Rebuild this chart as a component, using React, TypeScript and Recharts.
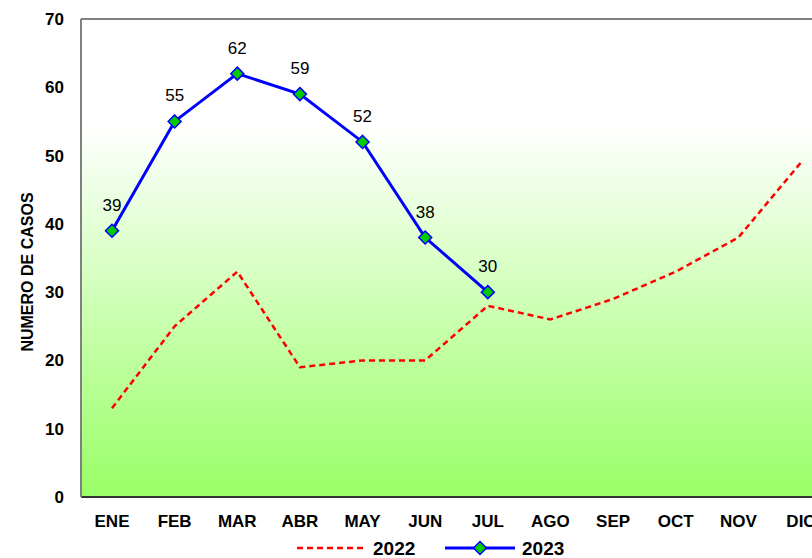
import React from 'react';
import { ComposedChart, Line, XAxis, YAxis, CartesianGrid, LabelList, Legend, ReferenceLine } from 'recharts';

const months = ['ENE', 'FEB', 'MAR', 'ABR', 'MAY', 'JUN', 'JUL', 'AGO', 'SEP', 'OCT', 'NOV', 'DIC'];
const casos2022 = [13, 25, 33, 19, 20, 20, 28, 26, 29, 33, 38, 49];
const casos2023: (number | null)[] = [39, 55, 62, 59, 52, 38, 30, null, null, null, null, null];
const yTicks = [0, 10, 20, 30, 40, 50, 60, 70];

const data = months.map((m, i) => ({ mes: m, y2022: casos2022[i], y2023: casos2023[i] }));

const FONT = '"Liberation Sans", Arial, sans-serif';

const Diamond = (props: any) => {
  const { cx, cy, value } = props;
  if (value == null || cx == null || cy == null) return null;
  const r = 6.5;
  return (
    <polygon
      points={`${cx},${cy - r} ${cx + r},${cy} ${cx},${cy + r} ${cx - r},${cy}`}
      fill="#00cc00"
      stroke="#0000ff"
      strokeWidth={1.5}
    />
  );
};

const LegendContent = () => (
  <svg width={832} height={31} style={{ display: 'block' }}>
    <line x1={297} x2={367} y1={21} y2={21} stroke="#ff0000" strokeWidth={2.5} strokeDasharray="6 4" />
    <text x={373} y={28} fontFamily={FONT} fontWeight="bold" fontSize={19} fill="#000">2022</text>
    <line x1={445} x2={515} y1={21} y2={21} stroke="#0000ff" strokeWidth={3} />
    <polygon points="480,14.5 486.5,21 480,27.5 473.5,21" fill="#00cc00" stroke="#0000ff" strokeWidth={1.5} />
    <text x={522} y={28} fontFamily={FONT} fontWeight="bold" fontSize={19} fill="#000">2023</text>
  </svg>
);

export default function App() {
  return (
    <div style={{ position: 'fixed', left: 0, top: 0, width: 812, height: 558, overflow: 'hidden', background: '#fff' }}>
      <ComposedChart
        width={832}
        height={558}
        data={data}
        margin={{ top: 19, right: 0, left: 0, bottom: 0 }}
      >
        <defs>
          <linearGradient id="bgGrad" x1="0" y1="0" x2="0" y2="1">
            <stop offset="0%" stopColor="#ffffff" />
            <stop offset="22%" stopColor="#ffffff" />
            <stop offset="100%" stopColor="#99ff66" />
          </linearGradient>
        </defs>
        <CartesianGrid horizontal={false} vertical={false} fill="url(#bgGrad)" />
        <XAxis
          dataKey="mes"
          height={30}
          padding={{ left: 31, right: 31 }}
          tickSize={0}
          tickMargin={18}
          axisLine={{ stroke: '#333333', strokeWidth: 2 }}
          tickLine={false}
          interval={0}
          tick={{ fill: '#000', fontSize: 17, fontWeight: 'bold', fontFamily: FONT }}
        />
        <YAxis
          width={81}
          domain={[0, 70]}
          ticks={yTicks}
          tickSize={0}
          tickMargin={17}
          axisLine={{ stroke: '#808080', strokeWidth: 2 }}
          tickLine={false}
          interval={0}
          tick={{ fill: '#000', fontSize: 17, fontWeight: 'bold', fontFamily: FONT }}
          label={{
            content: () => (
              <text
                x={27}
                y={272}
                transform="rotate(-90, 27, 272)"
                textAnchor="middle"
                dominantBaseline="central"
                fontFamily={FONT}
                fontWeight="bold"
                fontSize={16}
                fill="#000"
              >
                NUMERO DE CASOS
              </text>
            ),
          }}
        />
        <ReferenceLine y={70} stroke="#808080" strokeWidth={2} />
        <Legend verticalAlign="bottom" height={31} content={LegendContent} wrapperStyle={{ left: 0, width: 832 }} />
        <Line
          type="linear"
          dataKey="y2022"
          name="2022"
          stroke="#ff0000"
          strokeWidth={2.5}
          strokeDasharray="6 4"
          dot={false}
          activeDot={false}
          isAnimationActive={false}
        />
        <Line
          type="linear"
          dataKey="y2023"
          name="2023"
          stroke="#0000ff"
          strokeWidth={3}
          dot={<Diamond />}
          activeDot={false}
          connectNulls={false}
          isAnimationActive={false}
        >
          <LabelList dataKey="y2023" position="top" offset={20} fill="#000" fontSize={17} fontFamily={FONT} />
        </Line>
      </ComposedChart>
    </div>
  );
}
